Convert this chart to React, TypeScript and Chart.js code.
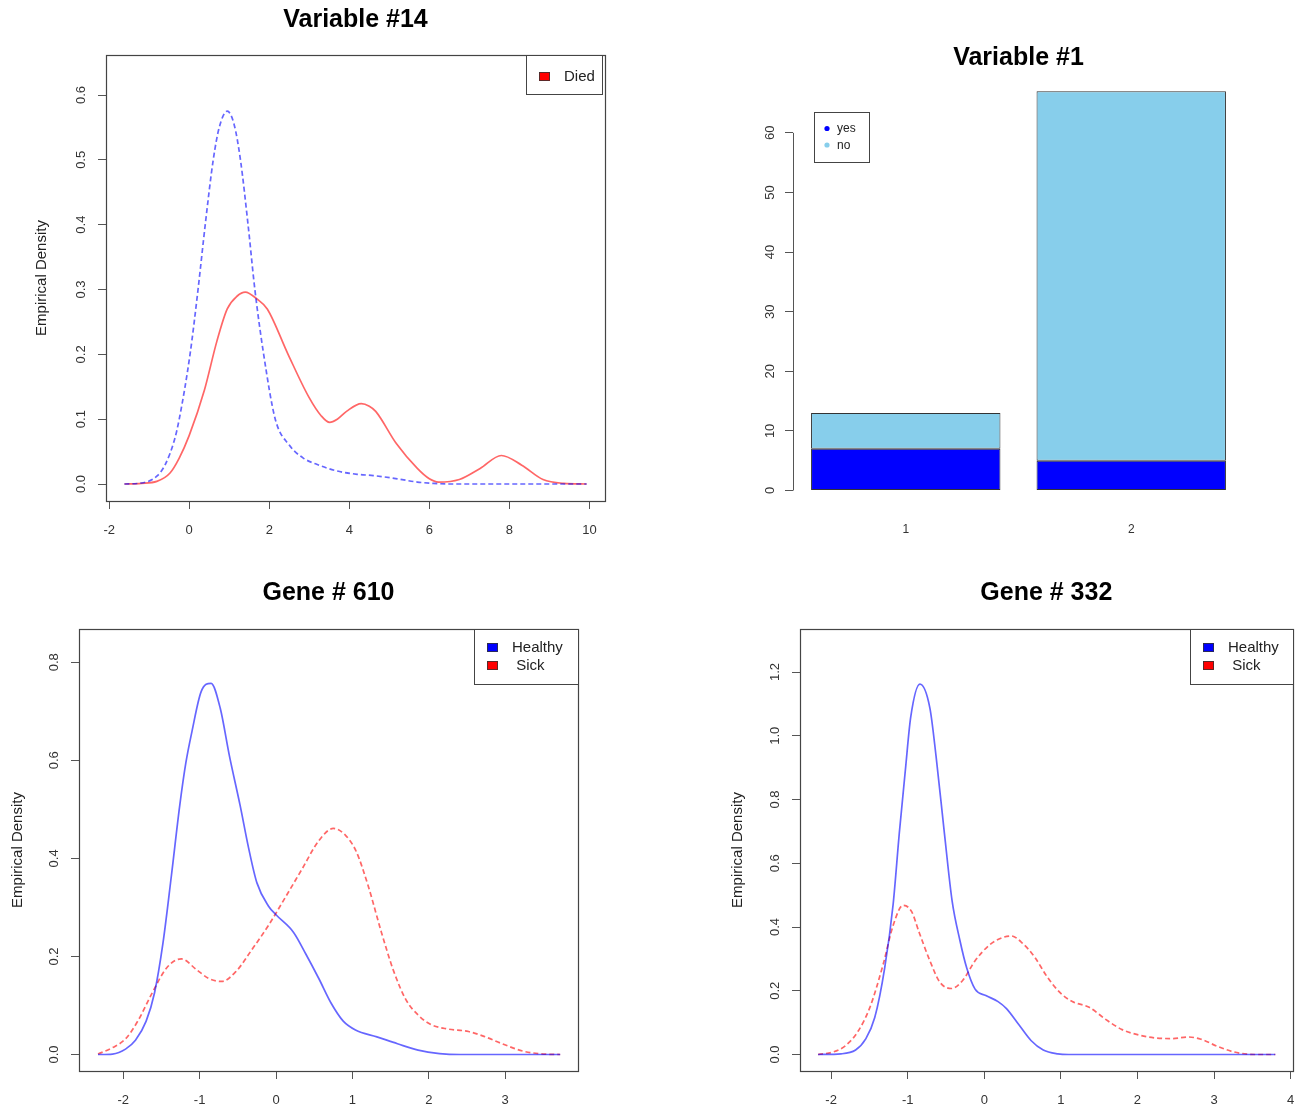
import React, { useEffect, useRef } from "react";
import { Chart, registerables } from "chart.js";

Chart.register(...registerables);

const FAMILY = '"Liberation Sans", Arial, Helvetica, sans-serif';
Chart.defaults.font.family = FAMILY;

// ---------------- Panel 1: Variable #14 (density) ----------------
const v14SurvivedX = [-1.62, -1.15, -0.81, -0.6, -0.37, -0.25, 0.02, 0.22, 0.4, 0.6, 0.75, 0.95, 1.12, 1.28, 1.47, 1.64, 1.86, 2.15, 2.5, 2.85, 3.2, 3.7, 4.2, 4.6, 5.2, 5.7, 6.1, 6.5, 7.5, 8.5, 9.93];
const v14SurvivedY = [0, 0.002, 0.012, 0.03, 0.068, 0.1, 0.2, 0.3, 0.4, 0.5, 0.55, 0.575, 0.555, 0.5, 0.4, 0.3, 0.2, 0.1, 0.06, 0.04, 0.03, 0.02, 0.015, 0.013, 0.008, 0.003, 0.001, 0, 0, 0, 0];
const v14DiedX = [-1.62, -1.2, -0.81, -0.48, -0.25, 0.0, 0.38, 0.69, 0.95, 1.2, 1.4, 1.7, 1.95, 2.47, 2.99, 3.3, 3.51, 3.7, 3.93, 4.3, 4.5, 4.66, 5.18, 5.7, 6.0, 6.23, 6.75, 7.27, 7.8, 8.31, 8.84, 9.36, 9.93];
const v14DiedY = [0, 0.001, 0.004, 0.017, 0.04, 0.075, 0.145, 0.22, 0.27, 0.29, 0.296, 0.285, 0.27, 0.2, 0.134, 0.105, 0.095, 0.1, 0.112, 0.124, 0.12, 0.112, 0.062, 0.024, 0.008, 0.003, 0.007, 0.024, 0.044, 0.029, 0.007, 0.001, 0];
const v14XTicks = [-2, 0, 2, 4, 6, 8, 10];
const v14YTicks = [0, 0.1, 0.2, 0.3, 0.4, 0.5, 0.6];

// ---------------- Panel 2: Variable #1 (stacked bars) ----------------
const v1Categories = ["1", "2"];
const v1Yes = [7, 5];
const v1No = [6, 62];
const v1YTicks = [0, 10, 20, 30, 40, 50, 60];

// ---------------- Panel 3: Gene # 610 ----------------
const g610HealthyX = [-2.33, -2.14, -1.97, -1.84, -1.7, -1.59, -1.48, -1.37, -1.26, -1.18, -1.1, -0.98, -0.85, -0.73, -0.61, -0.47, -0.36, -0.25, -0.1, 0.0, 0.23, 0.39, 0.56, 0.72, 0.88, 1.04, 1.32, 1.59, 1.86, 2.14, 2.41, 3.0, 3.72];
const g610HealthyY = [0, 0.001, 0.011, 0.029, 0.068, 0.126, 0.227, 0.364, 0.508, 0.595, 0.659, 0.74, 0.757, 0.706, 0.609, 0.508, 0.422, 0.35, 0.303, 0.285, 0.249, 0.205, 0.155, 0.105, 0.068, 0.05, 0.036, 0.022, 0.009, 0.002, 0, 0, 0];
const g610SickX = [-2.33, -2.14, -1.97, -1.81, -1.62, -1.43, -1.24, -1.04, -0.88, -0.71, -0.52, -0.32, -0.1, 0.12, 0.34, 0.56, 0.75, 0.91, 1.05, 1.21, 1.38, 1.54, 1.7, 1.87, 2.03, 2.25, 2.52, 2.74, 2.96, 3.23, 3.5, 3.72];
const g610SickY = [0.001, 0.014, 0.032, 0.068, 0.126, 0.177, 0.195, 0.173, 0.155, 0.149, 0.17, 0.213, 0.263, 0.32, 0.378, 0.436, 0.461, 0.447, 0.414, 0.342, 0.249, 0.17, 0.112, 0.079, 0.061, 0.052, 0.047, 0.036, 0.022, 0.007, 0.001, 0];
const g610XTicks = [-2, -1, 0, 1, 2, 3];
const g610YTicks = [0, 0.2, 0.4, 0.6, 0.8];

// ---------------- Panel 4: Gene # 332 ----------------
const g332HealthyX = [-2.17, -1.87, -1.68, -1.55, -1.43, -1.3, -1.19, -1.11, -1.03, -0.96, -0.84, -0.71, -0.63, -0.52, -0.42, -0.32, -0.23, -0.12, 0.02, 0.18, 0.29, 0.45, 0.61, 0.77, 0.96, 1.1, 2.0, 3.0, 3.8];
const g332HealthyY = [0, 0.002, 0.014, 0.048, 0.116, 0.272, 0.471, 0.693, 0.893, 1.059, 1.162, 1.087, 0.937, 0.693, 0.482, 0.36, 0.272, 0.205, 0.185, 0.166, 0.144, 0.094, 0.044, 0.014, 0.002, 0, 0, 0, 0];
const g332SickX = [-2.17, -1.97, -1.81, -1.65, -1.49, -1.32, -1.19, -1.06, -0.95, -0.85, -0.71, -0.58, -0.43, -0.28, -0.12, 0.07, 0.23, 0.35, 0.5, 0.66, 0.82, 0.99, 1.15, 1.37, 1.58, 1.8, 2.02, 2.23, 2.45, 2.66, 2.83, 3.04, 3.26, 3.53, 3.8];
const g332SickY = [0, 0.008, 0.028, 0.072, 0.15, 0.283, 0.405, 0.468, 0.449, 0.383, 0.294, 0.227, 0.207, 0.233, 0.294, 0.344, 0.366, 0.372, 0.349, 0.305, 0.244, 0.194, 0.166, 0.148, 0.111, 0.078, 0.061, 0.052, 0.05, 0.055, 0.048, 0.026, 0.008, 0, 0];
const g332XTicks = [-2, -1, 0, 1, 2, 3, 4];
const g332YTicks = [0, 0.2, 0.4, 0.6, 0.8, 1.0, 1.2];

// ---------------- helpers ----------------
const QW = 654;
const QH = 557;
const TICK_SIZE = 13;
const TITLE_SIZE = 25;
const LAB_SIZE = 15;
const TICK_LEN = 8;

const pts = (xs: number[], ys: number[]) => xs.map((x, i) => ({ x, y: ys[i] }));

function textWidth(text: string, size: number): number {
  const ctx = document.createElement("canvas").getContext("2d")!;
  ctx.font = `${size}px ${FAMILY}`;
  return ctx.measureText(text).width;
}

type LegendItem = { label: string; color: string };
type LegendSpec = {
  corner: "topright" | "topleft";
  dx: number;
  dy: number;
  w: number;
  h: number;
  rows: number[];
  symX: number;
  textX: number;
  font: number;
  symbol: "square" | "dot";
  items: LegendItem[];
};

function legendPlugin(spec: LegendSpec) {
  return {
    id: "rLegend",
    afterDraw(chart: any) {
      const { ctx, chartArea: ca } = chart;
      const x0 = Math.round(spec.corner === "topright" ? ca.right - spec.w - spec.dx : ca.left + spec.dx);
      const y0 = Math.round(ca.top + spec.dy);
      ctx.save();
      ctx.fillStyle = "#fff";
      ctx.fillRect(x0, y0, spec.w, spec.h);
      ctx.strokeStyle = "#444";
      ctx.lineWidth = 1;
      ctx.strokeRect(x0 + 0.5, y0 + 0.5, spec.w, spec.h);
      ctx.font = `${spec.font}px ${FAMILY}`;
      ctx.textBaseline = "middle";
      ctx.textAlign = "left";
      spec.items.forEach((it, i) => {
        const cy = y0 + spec.rows[i];
        ctx.fillStyle = it.color;
        if (spec.symbol === "square") {
          ctx.fillRect(x0 + spec.symX, cy - 4.5, 11, 9);
          ctx.strokeStyle = "#333";
          ctx.lineWidth = 0.8;
          ctx.strokeRect(x0 + spec.symX + 0.5, cy - 4, 10, 8);
        } else {
          ctx.beginPath();
          ctx.arc(x0 + spec.symX, cy, 2.6, 0, Math.PI * 2);
          ctx.fill();
        }
        ctx.fillStyle = "#222";
        ctx.fillText(it.label, x0 + spec.textX, cy + 0.5);
      });
      ctx.restore();
    },
  };
}

const framePlugin = {
  id: "rFrame",
  afterDatasetsDraw(chart: any) {
    const { ctx, chartArea: ca } = chart;
    ctx.save();
    ctx.strokeStyle = "#444";
    ctx.lineWidth = 1.2;
    ctx.strokeRect(Math.round(ca.left) + 0.5, Math.round(ca.top) + 0.5, Math.round(ca.right - ca.left), Math.round(ca.bottom - ca.top));
    ctx.restore();
  },
};

const axisLinePlugin = {
  id: "rAxisLine",
  afterDraw(chart: any) {
    const { ctx, chartArea: ca } = chart;
    const y = chart.scales.y;
    const ticks = y.ticks;
    const p0 = y.getPixelForValue(ticks[0].value);
    const p1 = y.getPixelForValue(ticks[ticks.length - 1].value);
    ctx.save();
    ctx.strokeStyle = "#555";
    ctx.lineWidth = 1;
    ctx.beginPath();
    const x = Math.round(ca.left) + 0.5;
    ctx.moveTo(x, p0);
    ctx.lineTo(x, p1);
    ctx.stroke();
    ctx.restore();
  },
};

const BLUE_LINE = "rgba(0,0,255,0.6)";
const RED_LINE = "rgba(255,0,0,0.6)";

function lineDs(label: string, xs: number[], ys: number[], color: string, dashed: boolean) {
  return {
    label,
    data: pts(xs, ys),
    borderColor: color,
    borderWidth: 1.7,
    borderDash: dashed ? [5, 3] : [],
    pointRadius: 0,
    fill: false,
    cubicInterpolationMode: "monotone",
  };
}

type DensitySpec = {
  title: string;
  L: number;
  T: number;
  R: number;
  B: number;
  xMin: number;
  xMax: number;
  yMin: number;
  yMax: number;
  xTicks: number[];
  yTicks: number[];
  yTickDist: number;
  yTitleX: number;
  titleCY: number;
  datasets: any[];
  legend: LegendSpec;
};

function densityConfig(s: DensitySpec): any {
  const fmt = (v: number) => Number(v).toFixed(1);
  const widest = Math.max(...s.yTicks.map((v) => textWidth(fmt(v), TICK_SIZE)));
  const titleLH = TITLE_SIZE * 1.2;
  const tTop = s.titleCY - titleLH / 2;
  const grid = { display: true, drawOnChartArea: false, drawTicks: true, tickLength: TICK_LEN, color: "#555", lineWidth: 1 };
  return {
    type: "line",
    data: { datasets: s.datasets },
    options: {
      animation: false,
      responsive: false,
      events: [],
      layout: { padding: { left: 0, top: 0, right: QW - s.R, bottom: 0 }, autoPadding: false },
      plugins: {
        legend: { display: false },
        tooltip: { enabled: false },
        title: {
          display: true,
          text: s.title,
          fullSize: false,
          font: { size: TITLE_SIZE, weight: "bold", family: FAMILY },
          color: "#000",
          padding: { top: tTop, bottom: s.T - tTop - titleLH },
        },
      },
      scales: {
        x: {
          type: "linear",
          min: s.xMin,
          max: s.xMax,
          afterBuildTicks: (a: any) => {
            a.ticks = s.xTicks.map((value) => ({ value }));
          },
          afterFit: (a: any) => {
            a.height = QH - s.B;
          },
          grid,
          border: { display: false },
          ticks: {
            autoSkip: false,
            maxRotation: 0,
            minRotation: 0,
            padding: 29.5 - TICK_LEN - (TICK_SIZE * 1.2) / 2,
            font: { size: TICK_SIZE, family: FAMILY },
            color: "#333",
            callback: (v: any) => String(v),
          },
        },
        y: {
          type: "linear",
          min: s.yMin,
          max: s.yMax,
          afterBuildTicks: (a: any) => {
            a.ticks = s.yTicks.map((value) => ({ value }));
          },
          afterFit: (a: any) => {
            a.width = s.L;
          },
          grid,
          border: { display: false },
          title: {
            display: true,
            text: "Empirical Density",
            font: { size: LAB_SIZE, family: FAMILY },
            color: "#222",
            padding: { top: s.yTitleX - (LAB_SIZE * 1.2) / 2, bottom: 0 },
          },
          ticks: {
            autoSkip: false,
            minRotation: 90,
            maxRotation: 90,
            crossAlign: "center",
            padding: s.yTickDist - TICK_LEN - widest / 2,
            font: { size: TICK_SIZE, family: FAMILY },
            color: "#333",
            callback: (v: any) => fmt(v),
          },
        },
      },
    },
    plugins: [framePlugin, legendPlugin(s.legend)],
  };
}

function barConfig(): any {
  const L = 139, T = 75, R = 590, B = 507;
  const widest = Math.max(...v1YTicks.map((v) => textWidth(String(v), TICK_SIZE)));
  const titleLH = TITLE_SIZE * 1.2;
  const tTop = 58 - titleLH / 2;
  return {
    type: "bar",
    data: {
      labels: v1Categories,
      datasets: [
        { label: "yes", data: v1Yes, backgroundColor: "#0000FF", borderColor: "#333", borderWidth: 1, borderSkipped: false, barPercentage: 1, categoryPercentage: 0.84 },
        { label: "no", data: v1No, backgroundColor: "#87CEEB", borderColor: "#333", borderWidth: 1, borderSkipped: false, barPercentage: 1, categoryPercentage: 0.84 },
      ],
    },
    options: {
      animation: false,
      responsive: false,
      events: [],
      layout: { padding: { left: 0, top: 0, right: QW - R, bottom: 0 }, autoPadding: false },
      plugins: {
        legend: { display: false },
        tooltip: { enabled: false },
        title: {
          display: true,
          text: "Variable #1",
          fullSize: false,
          font: { size: TITLE_SIZE, weight: "bold", family: FAMILY },
          color: "#000",
          padding: { top: tTop, bottom: T - tTop - titleLH },
        },
      },
      scales: {
        x: {
          stacked: true,
          afterFit: (a: any) => {
            a.height = QH - B;
          },
          grid: { display: false },
          border: { display: false },
          ticks: {
            maxRotation: 0,
            padding: 521.5 - B - (12 * 1.2) / 2,
            font: { size: 12, family: FAMILY },
            color: "#333",
          },
        },
        y: {
          stacked: true,
          min: -2.77,
          max: 69.71,
          afterBuildTicks: (a: any) => {
            a.ticks = v1YTicks.map((value) => ({ value }));
          },
          afterFit: (a: any) => {
            a.width = L;
          },
          grid: { display: true, drawOnChartArea: false, drawTicks: true, tickLength: TICK_LEN, color: "#555", lineWidth: 1 },
          border: { display: false },
          ticks: {
            autoSkip: false,
            minRotation: 90,
            maxRotation: 90,
            crossAlign: "center",
            padding: 23 - TICK_LEN - widest / 2,
            font: { size: TICK_SIZE, family: FAMILY },
            color: "#333",
            callback: (v: any) => String(v),
          },
        },
      },
    },
    plugins: [
      axisLinePlugin,
      legendPlugin({
        corner: "topleft",
        dx: 21,
        dy: 37,
        w: 55,
        h: 50,
        rows: [16.5, 33],
        symX: 13,
        textX: 23,
        font: 12,
        symbol: "dot",
        items: [
          { label: "yes", color: "#0000FF" },
          { label: "no", color: "#87CEEB" },
        ],
      }),
    ],
  };
}

const panel1 = (): any =>
  densityConfig({
    title: "Variable #14",
    L: 106,
    T: 55,
    R: 605,
    B: 501,
    xMin: -2.08,
    xMax: 10.39,
    yMin: -0.0262,
    yMax: 0.6617,
    xTicks: v14XTicks,
    yTicks: v14YTicks,
    yTickDist: 25,
    yTitleX: 42.3,
    titleCY: 20,
    datasets: [
      lineDs("Survived", v14SurvivedX, v14SurvivedY, BLUE_LINE, true),
      lineDs("Died", v14DiedX, v14DiedY, RED_LINE, false),
    ],
    legend: {
      corner: "topright",
      dx: 3,
      dy: 0,
      w: 76,
      h: 39,
      rows: [21.5],
      symX: 13,
      textX: 38,
      font: 15,
      symbol: "square",
      items: [{ label: "Died", color: "#FF0000" }],
    },
  });

const panel3 = (): any =>
  densityConfig({
    title: "Gene # 610",
    L: 79,
    T: 72,
    R: 578,
    B: 514,
    xMin: -2.579,
    xMax: 3.953,
    yMin: -0.0336,
    yMax: 0.8677,
    xTicks: g610XTicks,
    yTicks: g610YTicks,
    yTickDist: 25,
    yTitleX: 17.5,
    titleCY: 36,
    datasets: [
      lineDs("Healthy", g610HealthyX, g610HealthyY, BLUE_LINE, false),
      lineDs("Sick", g610SickX, g610SickY, RED_LINE, true),
    ],
    legend: {
      corner: "topright",
      dx: 0,
      dy: 0,
      w: 104,
      h: 55,
      rows: [18.5, 36.5],
      symX: 13,
      textX: 38,
      font: 15,
      symbol: "square",
      items: [
        { label: "Healthy", color: "#0000FF" },
        { label: " Sick", color: "#FF0000" },
      ],
    },
  });

const panel4 = (): any =>
  densityConfig({
    title: "Gene # 332",
    L: 146,
    T: 72,
    R: 644,
    B: 514,
    xMin: -2.406,
    xMax: 4.026,
    yMin: -0.0518,
    yMax: 1.3351,
    xTicks: g332XTicks,
    yTicks: g332YTicks,
    yTickDist: 25,
    yTitleX: 83.5,
    titleCY: 36,
    datasets: [
      lineDs("Healthy", g332HealthyX, g332HealthyY, BLUE_LINE, false),
      lineDs("Sick", g332SickX, g332SickY, RED_LINE, true),
    ],
    legend: {
      corner: "topright",
      dx: 0,
      dy: 0,
      w: 103,
      h: 55,
      rows: [18.5, 36.5],
      symX: 13,
      textX: 38,
      font: 15,
      symbol: "square",
      items: [
        { label: "Healthy", color: "#0000FF" },
        { label: " Sick", color: "#FF0000" },
      ],
    },
  });

function ChartPanel({ left, top, build }: { left: number; top: number; build: () => any }) {
  const ref = useRef<HTMLCanvasElement | null>(null);
  useEffect(() => {
    if (!ref.current) return;
    const chart = new Chart(ref.current, build());
    return () => chart.destroy();
  }, []);
  return (
    <div style={{ position: "absolute", left, top, width: QW, height: QH }}>
      <canvas ref={ref} width={QW} height={QH} style={{ width: QW, height: QH, display: "block" }} />
    </div>
  );
}

export default function App() {
  return (
    <div style={{ position: "absolute", left: 0, top: 0, width: 1308, height: 1114, background: "#fff", overflow: "hidden" }}>
      <ChartPanel left={0} top={0} build={panel1} />
      <ChartPanel left={654} top={0} build={barConfig} />
      <ChartPanel left={0} top={557} build={panel3} />
      <ChartPanel left={654} top={557} build={panel4} />
    </div>
  );
}
